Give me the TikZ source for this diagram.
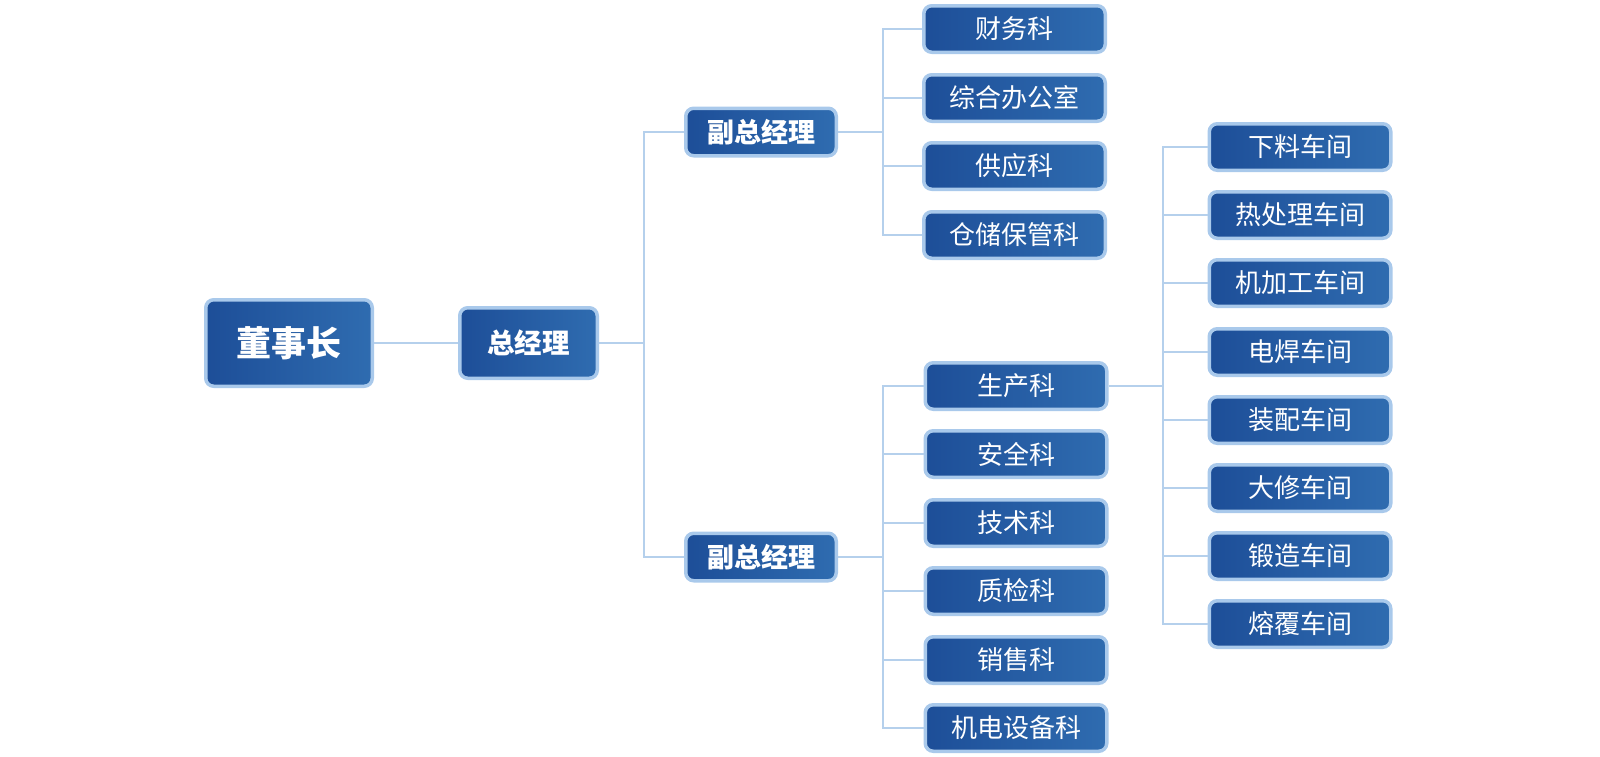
\documentclass[tikz,border=0pt]{standalone}
\usepackage{fontspec}
\newfontfamily\cjk{Noto Sans CJK SC}
\definecolor{lc}{HTML}{1D4E98}
\definecolor{rc}{HTML}{2F6CB0}
\definecolor{bordc}{HTML}{A9C9EB}
\definecolor{linec}{HTML}{B5D0EC}
\tikzset{
  box/.style={draw=bordc, line width=3.5pt, rounded corners=8pt, left color=lc, right color=rc,
    text=white, inner sep=0pt, minimum height=46.5pt, minimum width=181.5pt,
    font=\cjk\fontsize{26}{30}\selectfont},
  bigbox/.style={box, font=\cjk\bfseries\fontsize{27}{30}\selectfont},
  conn/.style={draw=linec, line width=2.6pt, line join=miter}
}
\begin{document}
\begin{tikzpicture}[x=1pt,y=-1pt]
\useasboundingbox (0,0) rectangle (1600,756);
% main nodes
\node[bigbox, minimum width=166.5pt, minimum height=86.5pt, font=\cjk\bfseries\fontsize{35}{40}\selectfont] (dsz) at (289,343) {董事长};
\node[bigbox, minimum width=137.5pt, minimum height=70.5pt, font=\cjk\bfseries\fontsize{27.5}{30}\selectfont] (zjl) at (528.5,343) {总经理};
\node[bigbox, minimum width=150.5pt, minimum height=47.5pt] (fz1) at (761,132) {副总经理};
\node[bigbox, minimum width=150.5pt, minimum height=47.5pt] (fz2) at (761,557) {副总经理};
% top group
\node[box] (cw) at (1014.5,29) {财务科};
\node[box] (zh) at (1014.5,98) {综合办公室};
\node[box] (gy) at (1014.5,166) {供应科};
\node[box] (cc) at (1014.5,235) {仓储保管科};
% bottom group
\node[box] (sc) at (1016,386) {生产科};
\node[box] (aq) at (1016,454) {安全科};
\node[box] (js) at (1016,523) {技术科};
\node[box] (zj) at (1016,591) {质检科};
\node[box] (xs) at (1016,660) {销售科};
\node[box] (jd) at (1016,728) {机电设备科};
% workshops
\node[box] (w1) at (1300,147) {下料车间};
\node[box] (w2) at (1300,215) {热处理车间};
\node[box] (w3) at (1300,283) {机加工车间};
\node[box] (w4) at (1300,352) {电焊车间};
\node[box] (w5) at (1300,420) {装配车间};
\node[box] (w6) at (1300,488) {大修车间};
\node[box] (w7) at (1300,556) {锻造车间};
\node[box] (w8) at (1300,624) {熔覆车间};
% branch points
\coordinate (b1) at (644,343);
\coordinate (b2) at (883,132);
\coordinate (b3) at (883,557);
\coordinate (b4) at (1163,386);
% connectors
\draw[conn] (dsz.east) -- (zjl.west);
\draw[conn] (zjl.east) -- (b1);
\draw[conn] (b1) |- (fz1.west);
\draw[conn] (b1) |- (fz2.west);
\draw[conn] (fz1.east) -- (b2);
\foreach \n in {cw,zh,gy,cc} \draw[conn] (b2) |- (\n.west);
\draw[conn] (fz2.east) -- (b3);
\foreach \n in {sc,aq,js,zj,xs,jd} \draw[conn] (b3) |- (\n.west);
\draw[conn] (sc.east) -- (b4);
\foreach \n in {w1,w2,w3,w4,w5,w6,w7,w8} \draw[conn] (b4) |- (\n.west);
\end{tikzpicture}
\end{document}
